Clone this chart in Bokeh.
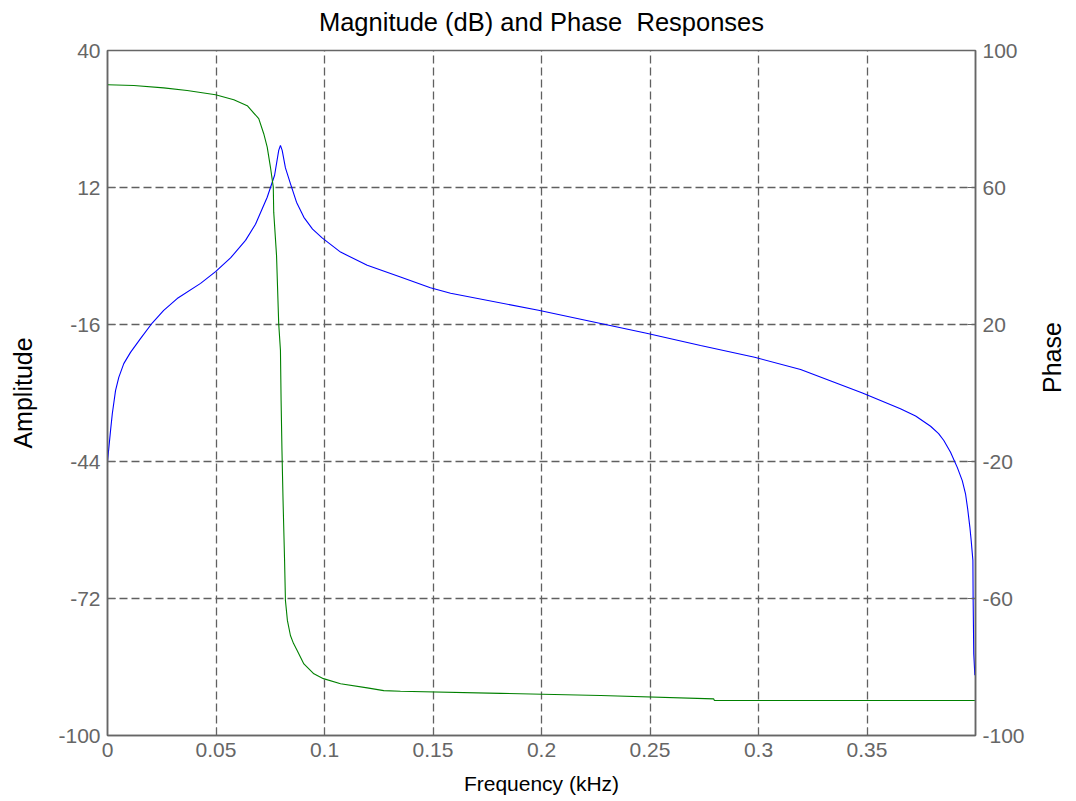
import math
from bokeh.plotting import figure
from bokeh.models import Range1d, LinearAxis, FixedTicker, NumeralTickFormatter
from bokeh.embed import file_html
from bokeh.resources import INLINE

# ---- data ----
mag_freq = [0.0, 0.0014, 0.0022, 0.0037, 0.0052, 0.0075, 0.0106, 0.0152, 0.0206,
            0.0259, 0.0321, 0.0429, 0.0498, 0.0567, 0.0636, 0.0682, 0.0736, 0.0770,
            0.0789, 0.0797, 0.0805, 0.0820, 0.0843, 0.0871, 0.0905, 0.0945, 0.0989,
            0.1074, 0.1197, 0.1350, 0.1488, 0.1581, 0.1986, 0.2484, 0.2733, 0.2982,
            0.3194, 0.3479, 0.3654, 0.3724, 0.3793, 0.3830, 0.3854, 0.3885, 0.3916,
            0.3939, 0.3954, 0.3964, 0.3974, 0.3980, 0.3988, 0.3989, 0.3992, 0.3997]
mag_db = [-44.0, -37.7, -34.3, -29.5, -26.8, -24.0, -21.7, -18.9, -15.7,
          -13.1, -10.7, -7.6, -5.2, -2.4, 1.2, 4.5, 10.0, 14.5,
          19.6, 20.6, 19.6, 16.0, 12.8, 9.0, 5.9, 3.5, 1.7,
          -1.2, -3.9, -6.3, -8.5, -9.6, -13.1, -17.8, -20.3, -22.7,
          -25.2, -30.0, -33.2, -34.7, -36.8, -38.3, -39.7, -42.1, -45.2,
          -47.9, -50.6, -53.7, -57.4, -60.1, -64.2, -71.7, -83.3, -87.7]

phase_freq = [0.0, 0.0121, 0.0259, 0.0367, 0.0498, 0.0582, 0.0644, 0.0697, 0.0720,
              0.0736, 0.0751, 0.0764, 0.0766, 0.0779, 0.0789, 0.0797, 0.0800, 0.0804,
              0.0809, 0.0816, 0.0820, 0.0829, 0.0843, 0.0857, 0.0874, 0.0905, 0.0951,
              0.0995, 0.1074, 0.1197, 0.1273, 0.1350, 0.1811, 0.2272, 0.2793, 0.2797,
              0.3997]
phase_deg = [90.0, 89.8, 89.1, 88.3, 87.1, 85.6, 83.9, 80.1, 75.7,
             71.8, 65.9, 60.1, 52.8, 40.1, 20.2, 12.4, -2.2, -16.8,
             -31.4, -48.9, -60.6, -66.4, -70.8, -73.1, -75.2, -79.1, -82.0,
             -83.4, -84.9, -86.1, -86.9, -87.1, -87.7, -88.3, -89.3, -89.8,
             -89.8]

x_ticks = [0, 0.05, 0.1, 0.15, 0.2, 0.25, 0.3, 0.35]
amp_ticks = [-100, -72, -44, -16, 12, 40]
phase_ticks = [-100, -60, -20, 20, 60, 100]

title_text = "Magnitude (dB) and Phase \u00a0Responses"
FONT = "Liberation Sans"
TICK_COLOR = "#666666"

p = figure(output_backend="svg", toolbar_location=None,
           x_range=Range1d(0, 0.4), y_range=Range1d(-100, 40),
           frame_width=868, frame_height=685,
           min_border_left=107, min_border_right=80, min_border_top=50, min_border_bottom=60)
p.extra_y_ranges = {"phase": Range1d(-100, 100)}

p.outline_line_color = TICK_COLOR
p.outline_line_width = 1.5
p.background_fill_color = "white"
p.border_fill_color = "white"

# title: label of an otherwise empty top axis, so it sits at a fixed distance above the frame
ta = LinearAxis(ticker=FixedTicker(ticks=[]), axis_label=title_text)
ta.axis_line_color = None
ta.major_tick_line_color = None
ta.minor_tick_line_color = None
ta.major_tick_in = 0
ta.major_tick_out = 0
ta.major_label_standoff = 0
ta.major_label_text_font_size = "0px"
ta.axis_label_standoff = 15
ta.axis_label_text_font = FONT
ta.axis_label_text_font_size = "25.5px"
ta.axis_label_text_font_style = "normal"
ta.axis_label_text_color = "black"
p.add_layout(ta, "above")

# x axis
xa = p.xaxis[0] if p.below else None
xa = p.below[0]
xa.ticker = FixedTicker(ticks=x_ticks)
xa.formatter = NumeralTickFormatter(format="0.[00]")
xa.axis_label = "Frequency (kHz)"

# left axis
ya = p.left[0]
ya.ticker = FixedTicker(ticks=amp_ticks)
ya.major_label_overrides = {t: str(t) for t in amp_ticks}
ya.axis_label = "Amplitude"

# right axis
ra = LinearAxis(y_range_name="phase", ticker=FixedTicker(ticks=phase_ticks),
                axis_label="Phase")
ra.major_label_overrides = {t: str(t) for t in phase_ticks}
ra.axis_label_orientation = math.pi / 2
p.add_layout(ra, "right")

for ax, lbl_size in ((xa, "21px"), (ya, "25px"), (ra, "25px")):
    ax.major_label_text_font = FONT
    ax.major_label_text_font_size = "21px"
    ax.major_label_text_color = TICK_COLOR
    ax.axis_label_text_font = FONT
    ax.axis_label_text_font_size = lbl_size
    ax.axis_label_text_font_style = "normal"
    ax.axis_label_text_color = "black"
    ax.axis_line_color = TICK_COLOR
    ax.axis_line_width = 1.5
    ax.major_tick_line_color = TICK_COLOR
    ax.major_tick_in = 8
    ax.major_tick_out = 0
    ax.minor_tick_line_color = None
    ax.major_label_standoff = 7

xa.axis_label_standoff = 12
ya.axis_label_standoff = 18
ra.axis_label_standoff = 24

# grid
p.xgrid.ticker = FixedTicker(ticks=x_ticks)
p.ygrid.ticker = FixedTicker(ticks=amp_ticks)
for g in (p.xgrid, p.ygrid):
    g.grid_line_color = "#606060"
    g.grid_line_dash = "8 4"
    g.grid_line_width = 1.3

# lines
p.line(mag_freq, mag_db, color="#0000ff", line_width=1.1)
p.line(phase_freq, phase_deg, color="#008000", line_width=1.1, y_range_name="phase")

open("out.html", "w").write(file_html(p, INLINE))
